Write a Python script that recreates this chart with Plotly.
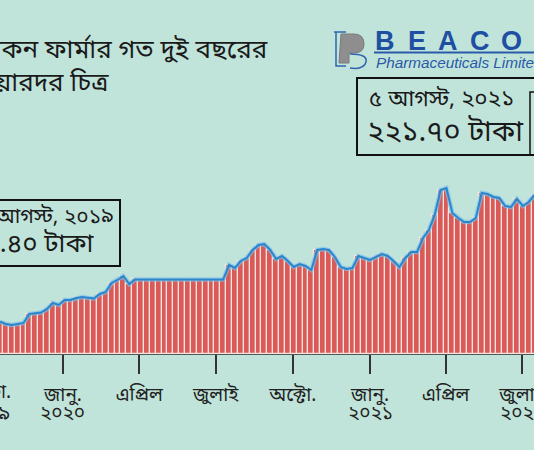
import plotly.graph_objects as go
import pandas as pd

# Weekly closing prices (Tk), starting 18 Oct 2019
prices = [43.6, 40.5, 39.2, 40.5, 41.9, 54.0, 55.4, 56.0, 60.8, 68.9,
          66.2, 72.9, 72.9, 75.6, 77.0, 75.6, 74.9, 81.0, 83.7, 95.9,
          99.9, 105.3, 94.5, 100.6, 100.6, 100.6, 100.6, 100.6, 100.6, 100.6,
          100.6, 100.6, 100.6, 100.6, 100.6, 100.6, 100.6, 100.6, 100.6, 120.2,
          116.1, 125.6, 129.6, 140.4, 147.2, 148.5, 140.4, 128.3, 132.3, 125.6,
          117.5, 121.5, 118.8, 113.4, 140.4, 141.8, 140.4, 131.0, 117.5, 114.8,
          116.1, 132.3, 129.6, 126.9, 131.0, 135.0, 132.3, 125.6, 117.5, 129.6,
          137.7, 137.7, 156.6, 167.4, 187.7, 221.4, 224.1, 190.4, 183.6, 178.2,
          178.2, 183.6, 217.4, 216.0, 212.0, 210.6, 199.8, 198.5, 209.3, 199.8,
          205.2, 214.7]
dates = pd.date_range("2019-10-18", periods=len(prices), freq="7D")

tick_vals = ["2020-01-01", "2020-04-01", "2020-07-01", "2020-10-01",
             "2021-01-01", "2021-04-01", "2021-07-01"]
tick_text = ["জানু.", "এপ্রিল", "জুলাই", "অক্টো.", "জানু.", "এপ্রিল", "জুলাই"]
year_vals = ["2020-01-01", "2021-01-01", "2021-07-01"]
year_text = ["২০২০", "২০২১", "২০২১"]
first_tick = ["অক্টো.", "২০১৯"]  # Oct 2019, just left of the visible range

title_lines = ["বিকন ফার্মার গত দুই বছরের", "শেয়ারদর চিত্র"]
start_label = ["৫ আগস্ট, ২০১৯", "২১.৪০ টাকা"]
end_label = ["৫ আগস্ট, ২০২১", "২২১.৭০ টাকা"]
brand_letters = ["B", "E", "A", "C", "O", "N"]

BG = "#c1e4da"
BN = "Noto Sans Bengali, Noto Serif Bengali, Lohit Bengali, FreeSans, Noto Sans, sans-serif"

W, H = 534, 450
PB = 96  # bottom margin in px

def px(x):
    return x / W

def py(y):
    return (H - PB - y) / (H - PB)

fig = go.Figure()
fig.add_trace(go.Bar(
    x=dates, y=prices,
    marker=dict(color="#d95a58", line=dict(color="#f8e4dc", width=1.2)),
    hoverinfo="skip",
))
fig.add_trace(go.Scatter(
    x=dates, y=prices, mode="lines",
    line=dict(color="#7cc3ea", width=4.5), hoverinfo="skip", opacity=0.7,
))
fig.add_trace(go.Scatter(
    x=dates, y=prices, mode="lines",
    line=dict(color="#2a86cc", width=2), hoverinfo="skip",
))

ann = []
ann.append(dict(x=px(-24), y=py(52), xref="paper", yref="paper", text=title_lines[0],
                showarrow=False, xanchor="left", yanchor="middle",
                font=dict(family=BN, size=26, color="#1a1a1a")))
ann.append(dict(x=px(-33), y=py(85), xref="paper", yref="paper", text=title_lines[1],
                showarrow=False, xanchor="left", yanchor="middle",
                font=dict(family=BN, size=26, color="#1a1a1a")))
ann.append(dict(x=px(116), y=py(218), xref="paper", yref="paper", text=start_label[0],
                showarrow=False, xanchor="right", yanchor="middle",
                font=dict(family=BN, size=21, color="#1a1a1a")))
ann.append(dict(x=px(96), y=py(246), xref="paper", yref="paper", text=start_label[1],
                showarrow=False, xanchor="right", yanchor="middle",
                font=dict(family=BN, size=26, color="#1a1a1a")))
ann.append(dict(x=px(367), y=py(100), xref="paper", yref="paper", text=end_label[0],
                showarrow=False, xanchor="left", yanchor="middle",
                font=dict(family=BN, size=22.5, color="#1a1a1a")))
ann.append(dict(x=px(365), y=py(133), xref="paper", yref="paper", text=end_label[1],
                showarrow=False, xanchor="left", yanchor="middle",
                font=dict(family=BN, size=29, color="#1a1a1a")))
# first (off-range) tick label, Oct 2019
ann.append(dict(x=px(-13), y=py(393), xref="paper", yref="paper", text=first_tick[0],
                showarrow=False, xanchor="center", yanchor="middle",
                font=dict(family=BN, size=19, color="#222")))
ann.append(dict(x=px(-13), y=py(415), xref="paper", yref="paper", text=first_tick[1],
                showarrow=False, xanchor="center", yanchor="middle",
                font=dict(family=BN, size=19, color="#222")))
# year lines under ticks
for xv, yt in zip(year_vals, year_text):
    ann.append(dict(x=xv, y=py(415), xref="x", yref="paper", text=yt,
                    showarrow=False, xanchor="center", yanchor="middle",
                    font=dict(family=BN, size=19, color="#222")))
for i, ch in enumerate(brand_letters):
    ann.append(dict(x=px(385 + 31.5 * i), y=py(41), xref="paper", yref="paper", text=f"<b>{ch}</b>",
                    showarrow=False, xanchor="center", yanchor="middle",
                    font=dict(family="Liberation Sans, Arial", size=27, color="#1f4fa3")))
ann.append(dict(x=px(374), y=py(62), xref="paper", yref="paper",
                text="<i>Pharmaceuticals Limited</i>",
                showarrow=False, xanchor="left", yanchor="middle",
                font=dict(family="Liberation Sans, Arial", size=15.3, color="#2a5aa8")))

shapes = []
shapes.append(dict(type="rect", xref="paper", yref="paper", x0=px(-10), x1=px(120),
                   y0=py(266), y1=py(200), line=dict(color="#111", width=2), fillcolor=BG))
shapes.append(dict(type="rect", xref="paper", yref="paper", x0=px(357), x1=px(545),
                   y0=py(155), y1=py(78), line=dict(color="#111", width=2), fillcolor=BG))
shapes.append(dict(type="path", xref="paper", yref="paper",
                   path=f"M {px(530)},{py(155)} L {px(530)},{py(92)} L {px(545)},{py(92)}",
                   line=dict(color="#111", width=1.5)))
shapes.append(dict(type="line", xref="paper", yref="paper", x0=px(374), x1=px(540),
                   y0=py(52.5), y1=py(52.5), line=dict(color="#2a5aa8", width=2)))
shapes.append(dict(type="path", xref="paper", yref="paper",
                   path=(f"M {px(341)},{py(34)} L {px(354)},{py(34)} "
                         f"Q {px(364)},{py(34)} {px(364)},{py(44)} "
                         f"Q {px(364)},{py(53)} {px(354)},{py(53)} "
                         f"L {px(349)},{py(53)} L {px(349)},{py(63)} L {px(339)},{py(63)} Z"),
                   fillcolor="#8e8e8e", line=dict(color="#7a7a7a", width=1)))
shapes.append(dict(type="path", xref="paper", yref="paper",
                   path=(f"M {px(334)},{py(32)} L {px(346)},{py(32)} "
                         f"M {px(336)},{py(32)} L {px(336)},{py(66)} L {px(346)},{py(66)}"),
                   line=dict(color="#2f64b0", width=1.5)))
shapes.append(dict(type="path", xref="paper", yref="paper",
                   path=(f"M {px(350)},{py(54)} Q {px(368)},{py(54)} {px(366)},{py(62)} "
                         f"Q {px(364)},{py(70)} {px(350)},{py(68)}"),
                   line=dict(color="#2f64b0", width=1.5)))

fig.update_layout(
    width=W, height=H,
    margin=dict(l=0, r=0, t=0, b=PB, pad=0, autoexpand=False),
    paper_bgcolor=BG, plot_bgcolor=BG,
    showlegend=False, bargap=0,
    annotations=ann, shapes=shapes,
    xaxis=dict(range=["2019-10-18", "2021-07-15 07:00"], tickmode="array",
               tickvals=tick_vals, ticktext=tick_text, ticks="outside", ticklen=19,
               tickwidth=1.5, tickcolor="#333", showgrid=False, zeroline=False,
               showline=True, linecolor="#555", linewidth=1, ticklabelstandoff=4,
               ticklabeloverflow="allow", automargin=False,
               tickfont=dict(family=BN, size=19, color="#222")),
    yaxis=dict(range=[0, 477.9], visible=False, showgrid=False, zeroline=False,
               automargin=False),
)

fig.write_html("out.html", config={"displayModeBar": False},
               post_script="document.body.style.margin='0';document.body.style.overflow='hidden';")
